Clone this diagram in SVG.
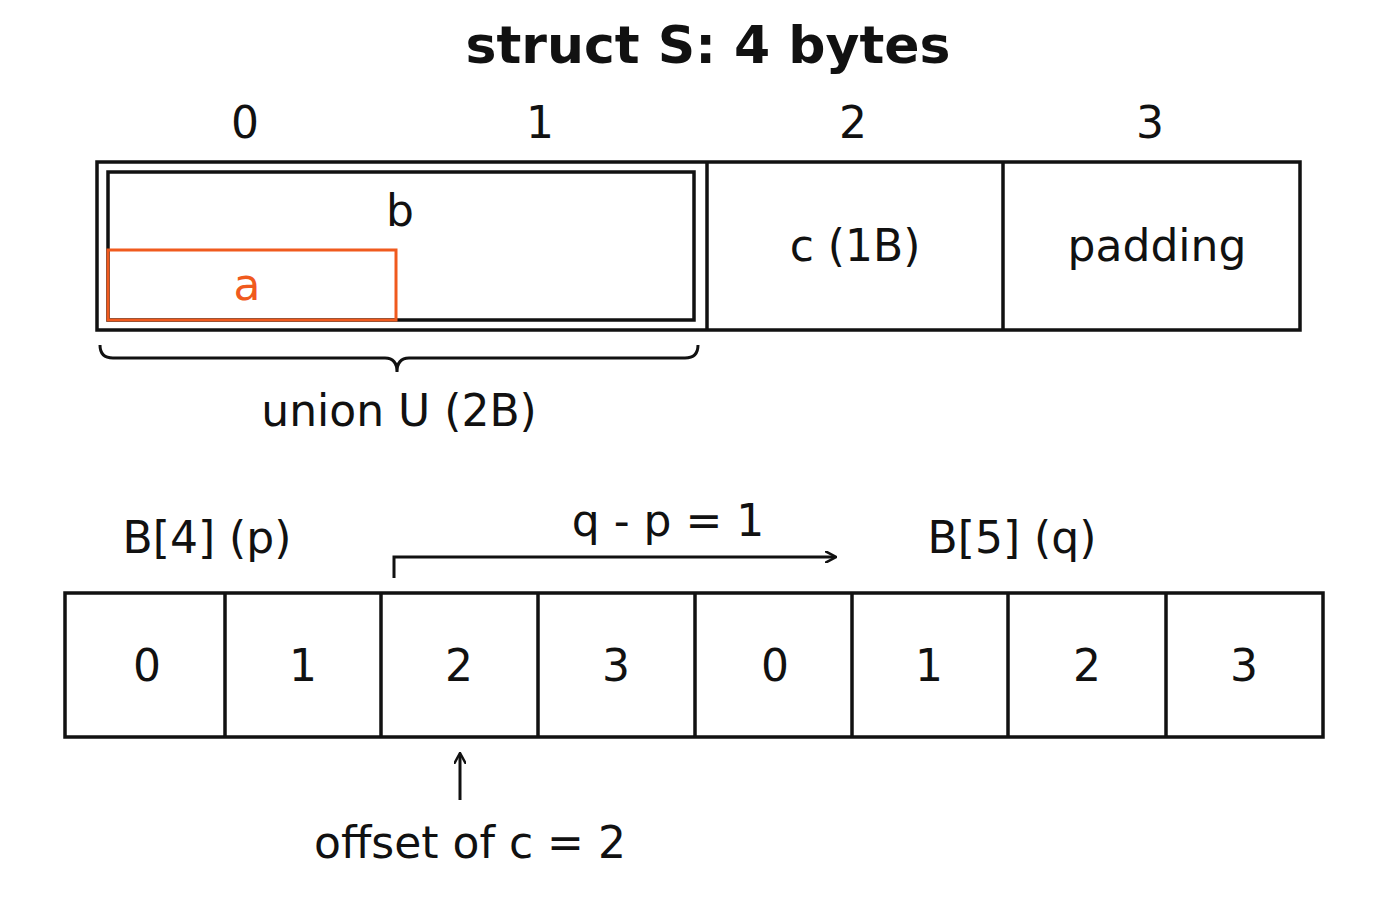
<svg xmlns="http://www.w3.org/2000/svg" width="1400" height="900" viewBox="0 0 1400 900">
<style>
text{font-family:"DejaVu Sans","Liberation Sans",sans-serif;fill:#111;text-anchor:middle;dominant-baseline:central}
.t{font-size:44px}
.box{fill:none;stroke:#111;stroke-width:3.5}
.ln{fill:none;stroke:#111;stroke-width:3}
</style>
<defs><marker id="ah" markerWidth="12" markerHeight="12" refX="10" refY="6" orient="auto" markerUnits="userSpaceOnUse"><path d="M0,0 L11,6 L0,12" fill="none" stroke="#111" stroke-width="2.5"/></marker></defs>
<rect width="1400" height="900" fill="#fff"/>
<text x="708" y="45" style="font-size:52px;font-weight:bold">struct S: 4 bytes</text>
<g id="indices"><text class="t" x="245" y="122">0</text><text class="t" x="540" y="122">1</text><text class="t" x="853" y="122">2</text><text class="t" x="1150" y="122">3</text></g>
<g id="struct">
<rect class="box" x="97" y="162" width="1203" height="168"/>
<line class="box" x1="707" y1="162" x2="707" y2="330"/>
<line class="box" x1="1003" y1="162" x2="1003" y2="330"/>
<text class="t" x="855" y="245">c (1B)</text>
<text class="t" x="1157" y="245">padding</text>
</g>
<g id="b"><rect class="box" x="108" y="172" width="586" height="148"/><text class="t" x="400" y="210">b</text></g>
<g id="a"><rect x="108" y="250" width="288" height="70" fill="none" stroke="#f05a1e" stroke-width="3"/><text class="t" x="247" y="284" style="fill:#f05a1e">a</text></g>
<g id="union"><path class="ln" d="M100,345 Q100,358 113,358 L385,358 Q397,358 397,372 Q397,358 409,358 L685,358 Q698,358 698,345"/><text class="t" x="399" y="410">union U (2B)</text></g>
<g id="array">
<rect class="box" x="65" y="593" width="1258" height="144"/>
<line class="box" x1="225" y1="593" x2="225" y2="737"/><line class="box" x1="381" y1="593" x2="381" y2="737"/><line class="box" x1="538" y1="593" x2="538" y2="737"/><line class="box" x1="695" y1="593" x2="695" y2="737"/><line class="box" x1="852" y1="593" x2="852" y2="737"/><line class="box" x1="1008" y1="593" x2="1008" y2="737"/><line class="box" x1="1166" y1="593" x2="1166" y2="737"/>
<text class="t" x="147" y="665">0</text><text class="t" x="303" y="665">1</text><text class="t" x="459" y="665">2</text><text class="t" x="616" y="665">3</text><text class="t" x="775" y="665">0</text><text class="t" x="929" y="665">1</text><text class="t" x="1087" y="665">2</text><text class="t" x="1244" y="665">3</text>
<text class="t" x="207" y="537">B[4] (p)</text><text class="t" x="1012" y="537">B[5] (q)</text>
</g>
<g id="connectors">
<path class="ln" d="M394,578 L394,557 L835,557" marker-end="url(#ah)"/>
<path class="ln" d="M460,800 L460,754" marker-end="url(#ah)"/>
</g>
<text class="t" x="668" y="520">q - p = 1</text>
<text class="t" x="470" y="842">offset of c = 2</text>
</svg>
